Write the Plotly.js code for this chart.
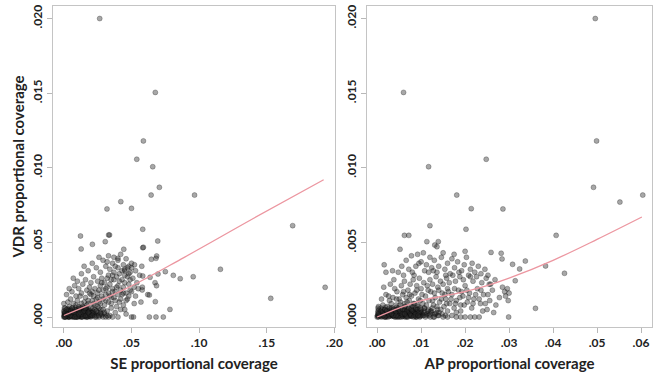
<!DOCTYPE html>
<html><head><meta charset="utf-8">
<script src="https://cdn.plot.ly/plotly-3.0.1.min.js"></script>
<style>html,body{margin:0;padding:0;background:#fff}</style>
</head><body><div id="chart" style="width:656px;height:375px"></div>
<script>
// ---- SE panel (x: SE proportional coverage, y: VDR proportional coverage) ----
const seCore = [
[0.0005,0.00005],[0.0015,0.00015],[0.0025,0.00005],[0.0035,0.00025],[0.0045,0.0001],[0.0055,0.00035],[0.0065,0.00005],[0.0075,0.0002],[0.0085,0.0004],[0.0095,0.0001],
[0.0105,0.00025],[0.0115,0.00005],[0.0125,0.0004],[0.0135,0.00015],[0.0145,0.0003],[0.0155,0.00005],[0.0165,0.0002],[0.0175,0.00045],[0.0185,0.0001],[0.0195,0.0003],
[0.0205,0.0002],[0.0215,0.0004],[0.0225,0.0001],[0.0008,0.0004],[0.0018,0.0003],[0.0028,0.00055],[0.0038,0.0001],[0.0048,0.0005],[0.0058,0.00015],[0.0068,0.0005],
[0.0078,0.00035],[0.0088,0.00065],[0.0098,0.0004],[0.0108,0.00055],[0.0118,0.0003],[0.0128,0.0006],[0.0138,0.00045],[0.0148,0.0006],[0.0158,0.00035],[0.0168,0.00055],
[0.0003,0.0002],[0.0013,0.0000],[0.0023,0.00035],[0.0033,0.0000],[0.0043,0.0003],[0.0053,0.00005],[0.0063,0.0004],[0.0073,0.0000],[0.0083,0.0001],[0.0093,0.0003],
[0.0103,0.0000],[0.0113,0.00035],[0.0123,0.0001],[0.0133,0.0003],[0.0143,0.0001],[0.0153,0.0004],[0.0163,0.0000],[0.0173,0.0003],[0.0183,0.00025],[0.0193,0.00005]
];
const seCore2 = [
[0.0002,0.0001],[0.0012,0.00025],[0.0022,0.0001],[0.0032,0.0003],[0.0042,0.00005],[0.0052,0.0002],[0.0062,0.00025],[0.0072,0.0001],[0.0082,0.00025],[0.0092,0.00005],
[0.0102,0.0002],[0.0112,0.0001],[0.0122,0.00025],[0.0132,0.00005],[0.0142,0.0002],[0.0152,0.0001],[0.0162,0.00025],[0.0172,0.0001],[0.0182,0.0002],[0.0192,0.0001],
[0.0007,0.0000],[0.0017,0.0001],[0.0027,0.0002],[0.0037,0.0000],[0.0047,0.0002],[0.0057,0.0001],[0.0067,0.0003],[0.0077,0.0001],[0.0087,0.0000],[0.0097,0.0002],
[0.0107,0.0001],[0.0117,0.0002],[0.0127,0.0000],[0.0137,0.0003],[0.0147,0.0001],[0.0157,0.0002],[0.0167,0.0001],[0.0177,0.0000],[0.0187,0.0002],[0.0197,0.0001],
[0.0004,0.0003],[0.0026,0.0004],[0.0046,0.00035],[0.0066,0.0003],[0.0086,0.00035],[0.0106,0.0004],[0.0126,0.0002],[0.0146,0.00045],[0.0166,0.0004],[0.0186,0.0004],
[0.0210,0.0001],[0.0220,0.0003],[0.0230,0.0002],[0.0240,0.0001],[0.0250,0.0003],[0.0260,0.0000],[0.0270,0.0002],[0.0280,0.0001],[0.0300,0.0002],[0.0320,0.0001]
];
const seCore3 = [
[0.0010,0.00015],[0.0020,0.00035],[0.0030,0.00015],[0.0040,0.0004],[0.0050,0.00015],[0.0060,0.00035],[0.0070,0.00015],[0.0080,0.0003],[0.0090,0.00015],[0.0100,0.00035],
[0.0110,0.00015],[0.0120,0.0004],[0.0130,0.00015],[0.0140,0.00035],[0.0150,0.00015],[0.0160,0.0003],[0.0170,0.00015],[0.0180,0.00035],[0.0190,0.00015],[0.0200,0.0003],
[0.0006,0.00025],[0.0016,0.00005],[0.0026,0.00025],[0.0036,0.00005],[0.0046,0.00025],[0.0056,0.00005],[0.0066,0.00025],[0.0076,0.00005],[0.0086,0.00025],[0.0096,0.00005],
[0.0106,0.00025],[0.0116,0.00005],[0.0126,0.00025],[0.0136,0.00005],[0.0146,0.00025],[0.0156,0.00005],[0.0166,0.00025],[0.0176,0.00005],[0.0186,0.00025],[0.0196,0.00005],
[0.0004,0.0006],[0.0034,0.0005],[0.0064,0.0006],[0.0094,0.0005],[0.0124,0.0005],[0.0154,0.0006],[0.0184,0.0005],[0.0214,0.0006],[0.0244,0.0004],[0.0274,0.0005]
];
const seDense = [
[0.000,0.0000],[0.002,0.0001],[0.004,0.0000],[0.005,0.0002],[0.007,0.0001],[0.009,0.0000],[0.010,0.0003],[0.012,0.0001],[0.013,0.0000],[0.015,0.0002],
[0.017,0.0000],[0.018,0.0001],[0.020,0.0000],[0.022,0.0002],[0.024,0.0000],[0.026,0.0001],[0.029,0.0000],[0.031,0.0000],[0.034,0.0001],[0.036,0.0000],
[0.001,0.0003],[0.003,0.0004],[0.006,0.0003],[0.008,0.0005],[0.011,0.0004],[0.014,0.0003],[0.016,0.0005],[0.019,0.0004],[0.021,0.0003],[0.023,0.0005],
[0.027,0.0003],[0.001,0.0006],[0.004,0.0007],[0.006,0.0006],[0.009,0.0008],[0.012,0.0006],[0.014,0.0007],[0.017,0.0008],[0.020,0.0006],[0.025,0.0007],
[0.003,0.0001],[0.006,0.0000],[0.008,0.0002],[0.011,0.0001],[0.014,0.0000],[0.016,0.0001],[0.019,0.0002],[0.002,0.0002],[0.005,0.0001],[0.010,0.0000],
[0.013,0.0002],[0.001,0.0000],[0.003,0.0002],[0.007,0.0003],[0.009,0.0002],[0.012,0.0003],[0.015,0.0004],[0.018,0.0003],[0.000,0.0004],[0.002,0.0005],
[0.005,0.0004],[0.008,0.0000],[0.011,0.0002],[0.021,0.0001],[0.023,0.0000],[0.028,0.0002],[0.033,0.0000],[0.040,0.0000],[0.050,0.0000],[0.0515,0.0000]
];
const seMid = [
[0.000,0.0009],[0.003,0.0010],[0.005,0.0012],[0.007,0.0009],[0.010,0.0011],[0.012,0.0014],[0.015,0.0010],[0.016,0.0013],[0.018,0.0011],[0.020,0.0015],
[0.022,0.0009],[0.024,0.0012],[0.026,0.0010],[0.028,0.0014],[0.030,0.0008],[0.031,0.0011],[0.033,0.0016],[0.035,0.0009],[0.037,0.0013],[0.039,0.0007],
[0.041,0.0010],[0.043,0.0015],[0.045,0.0005],[0.047,0.0012],[0.049,0.0018],[0.052,0.0009],[0.002,0.0015],[0.006,0.0017],[0.009,0.0014],[0.011,0.0019],
[0.013,0.0016],[0.017,0.0018],[0.019,0.0020],[0.021,0.0017],[0.023,0.0019],[0.025,0.0016],[0.027,0.0021],[0.029,0.0018],[0.032,0.0020],[0.034,0.0014],
[0.036,0.0019],[0.038,0.0017],[0.040,0.0021],[0.042,0.0018],[0.044,0.0020],[0.046,0.0016],[0.048,0.0022],[0.004,0.0019],[0.008,0.0021],[0.014,0.0022],
[0.024,0.0004],[0.026,0.0006],[0.029,0.0005],[0.032,0.0004],[0.035,0.0006],[0.038,0.0003],[0.042,0.0005],[0.044,0.0008],[0.046,0.0002],[0.030,0.0003]
];
const seMid2 = [
[0.011,0.0007],[0.013,0.0009],[0.016,0.0006],[0.018,0.0009],[0.021,0.0011],[0.023,0.0008],[0.025,0.0013],[0.027,0.0009],[0.029,0.0012],[0.031,0.0015],
[0.033,0.0010],[0.035,0.0013],[0.036,0.0017],[0.038,0.0011],[0.040,0.0015],[0.042,0.0012],[0.044,0.0016],[0.046,0.0011],[0.048,0.0014],[0.050,0.0017],
[0.019,0.0016],[0.022,0.0014],[0.026,0.0018],[0.028,0.0023],[0.031,0.0019],[0.034,0.0022],[0.037,0.0025],[0.039,0.0020],[0.041,0.0029],[0.043,0.0025],
[0.045,0.0023],[0.047,0.0027],[0.049,0.0025],[0.032,0.0026],[0.036,0.0028],[0.040,0.0033],[0.045,0.0031],[0.048,0.0029],[0.050,0.0033],[0.052,0.0020]
];
const seUpper = [
[0.010,0.0024],[0.016,0.0025],[0.020,0.0023],[0.022,0.0027],[0.025,0.0024],[0.028,0.0026],[0.030,0.0023],[0.033,0.0028],[0.035,0.0025],[0.037,0.0030],
[0.039,0.0027],[0.041,0.0024],[0.043,0.0031],[0.045,0.0028],[0.047,0.0033],[0.049,0.0030],[0.051,0.0026],[0.054,0.0023],[0.007,0.0026],[0.013,0.0029],
[0.018,0.0031],[0.024,0.0033],[0.027,0.0030],[0.031,0.0034],[0.034,0.0032],[0.036,0.0036],[0.038,0.0034],[0.040,0.0038],[0.044,0.0035],[0.048,0.0034],
[0.050,0.0036],[0.021,0.0036],[0.029,0.0038],[0.033,0.0041],[0.037,0.0040],[0.042,0.0042],[0.046,0.0039],[0.015,0.0034],[0.026,0.0040],[0.032,0.0037],
[0.053,0.0031],[0.056,0.0028],[0.055,0.0019],[0.053,0.0014],[0.057,0.0010],[0.058,0.0020],[0.062,0.0015],[0.0522,0.0035],[0.0576,0.0034],[0.0449,0.0032],
[0.0443,0.00454],[0.0400,0.00393],[0.0583,0.00464]
];
const seOutliers = [
[0.0265,0.0200],[0.0676,0.01505],[0.0588,0.0118],[0.0539,0.01057],[0.0657,0.01007],[0.0706,0.00869],[0.0645,0.00817],[0.0966,0.00817],[0.0421,0.00773],[0.0319,0.00724],
[0.0500,0.00728],[0.1691,0.00612],[0.0583,0.00588],[0.0123,0.00543],[0.0331,0.0055],[0.0338,0.0055],[0.0211,0.00487],[0.0306,0.00505],[0.0694,0.00509],[0.0128,0.00456],
[0.0588,0.00467],[0.1157,0.0032],[0.1931,0.00199],[0.1529,0.00125],[0.0956,0.0027],[0.0860,0.00257],[0.0809,0.00279],[0.0750,0.00304],[0.0696,0.00288],[0.0681,0.00393],
[0.0686,0.00409],[0.0647,0.00387],[0.0674,0.0023],[0.0685,0.0021],[0.0676,0.00103],[0.0784,0.00051],[0.0632,0.0000],[0.0681,0.0000],[0.0735,0.0000],[0.0632,0.00147],
[0.0579,0.00181],[0.0637,0.00266],[0.0583,0.00275]
];
const seFitX = [0, 0.046, 0.089, 0.140, 0.192];
const seFitY = [0.0001, 0.0019, 0.0040, 0.0066, 0.0092];

// ---- AP panel (x: AP proportional coverage, y: VDR proportional coverage) ----
const apCore = [
[0.00025,0.00005],[0.00075,0.0002],[0.00125,0.00005],[0.00175,0.0003],[0.00225,0.0001],[0.00275,0.0004],[0.00325,0.00005],[0.00375,0.00025],[0.00425,0.0005],[0.00475,0.0001],
[0.00525,0.0003],[0.00575,0.00005],[0.00625,0.00045],[0.00675,0.0002],[0.00725,0.0004],[0.00775,0.00005],[0.00825,0.0003],[0.00875,0.0005],[0.00925,0.0002],[0.00975,0.0004],
[0.01025,0.0002],[0.01075,0.0006],[0.01125,0.0002],[0.01175,0.0005],[0.01225,0.0003],[0.0004,0.0005],[0.0009,0.0006],[0.0014,0.0004],[0.0019,0.00065],[0.0024,0.0002],
[0.0029,0.0001],[0.0034,0.0006],[0.0039,0.0003],[0.0044,0.00065],[0.0049,0.0004],[0.0054,0.0006],[0.0059,0.0002],[0.0064,0.0007],[0.0069,0.0005],[0.0074,0.0003],
[0.0079,0.0007],[0.0084,0.0005],[0.0089,0.0003],[0.0094,0.0007],[0.0099,0.0002],[0.0001,0.0001],[0.0011,0.0002],[0.0021,0.0000],[0.0031,0.0002],[0.0041,0.0001],
[0.0051,0.0000],[0.0061,0.0001],[0.0071,0.0003],[0.0081,0.0002],[0.0091,0.0001],[0.0101,0.0003],[0.0111,0.0001],[0.0121,0.0000],[0.0131,0.0002],[0.0141,0.0003]
];
const apCore2 = [
[0.0001,0.0001],[0.0006,0.00025],[0.0011,0.0001],[0.0016,0.0003],[0.0021,0.00005],[0.0026,0.0002],[0.0031,0.00025],[0.0036,0.0001],[0.0041,0.00025],[0.0046,0.00005],
[0.0051,0.0002],[0.0056,0.0001],[0.0061,0.00025],[0.0066,0.00005],[0.0071,0.0002],[0.0076,0.0001],[0.0081,0.00025],[0.0086,0.0001],[0.0091,0.0002],[0.0096,0.0001],
[0.0003,0.0000],[0.0008,0.0001],[0.0013,0.0002],[0.0018,0.0000],[0.0023,0.0002],[0.0028,0.0001],[0.0033,0.0003],[0.0038,0.0001],[0.0043,0.0000],[0.0048,0.0002],
[0.0053,0.0001],[0.0058,0.0002],[0.0063,0.0000],[0.0068,0.0003],[0.0073,0.0001],[0.0078,0.0002],[0.0083,0.0001],[0.0088,0.0000],[0.0093,0.0002],[0.0098,0.0001],
[0.0002,0.0004],[0.0012,0.0005],[0.0022,0.00045],[0.0032,0.0005],[0.0042,0.00045],[0.0052,0.0005],[0.0062,0.0004],[0.0072,0.00055],[0.0082,0.0004],[0.0092,0.0005],
[0.0103,0.0001],[0.0108,0.0004],[0.0113,0.0002],[0.0118,0.0001],[0.0123,0.0004],[0.0128,0.0000],[0.0133,0.0002],[0.0138,0.0001],[0.0148,0.0002],[0.0155,0.0001]
];
const apCore3 = [
[0.0005,0.00015],[0.0010,0.00035],[0.0015,0.00015],[0.0020,0.0004],[0.0025,0.00015],[0.0030,0.00035],[0.0035,0.00015],[0.0040,0.0003],[0.0045,0.00015],[0.0050,0.00035],
[0.0055,0.00015],[0.0060,0.0004],[0.0065,0.00015],[0.0070,0.00035],[0.0075,0.00015],[0.0080,0.0003],[0.0085,0.00015],[0.0090,0.00035],[0.0095,0.00015],[0.0100,0.0003],
[0.0003,0.00025],[0.0008,0.00005],[0.0013,0.00025],[0.0018,0.00005],[0.0023,0.00025],[0.0028,0.00005],[0.0033,0.00025],[0.0038,0.00005],[0.0043,0.00025],[0.0048,0.00005],
[0.0053,0.00025],[0.0058,0.00005],[0.0063,0.00025],[0.0068,0.00005],[0.0073,0.00025],[0.0078,0.00005],[0.0083,0.00025],[0.0088,0.00005],[0.0093,0.00025],[0.0098,0.00005],
[0.0002,0.0006],[0.0017,0.0005],[0.0032,0.0006],[0.0047,0.0005],[0.0062,0.0005],[0.0077,0.0006],[0.0092,0.0005],[0.0107,0.0006],[0.0122,0.0004],[0.0137,0.0005]
];
const apDense = [
[0.0000,0.0000],[0.0005,0.0001],[0.0010,0.0000],[0.0015,0.0002],[0.0020,0.0001],[0.0025,0.0000],[0.0030,0.0003],[0.0035,0.0001],[0.0040,0.0000],[0.0045,0.0002],
[0.0050,0.0001],[0.0055,0.0000],[0.0060,0.0003],[0.0065,0.0001],[0.0070,0.0000],[0.0075,0.0002],[0.0080,0.0004],[0.0085,0.0001],[0.0090,0.0000],[0.0095,0.0003],
[0.0100,0.0005],[0.0105,0.0001],[0.0110,0.0000],[0.0120,0.0002],[0.0130,0.0000],[0.0140,0.0001],[0.0150,0.0000],[0.0160,0.0000],[0.0170,0.0001],[0.0180,0.0000],
[0.0190,0.0000],[0.0200,0.0000],[0.0212,0.0000],[0.0222,0.0000],[0.0232,0.0000],[0.0002,0.0003],[0.0008,0.0004],[0.0012,0.0003],[0.0018,0.0005],[0.0022,0.0004],
[0.0028,0.0006],[0.0033,0.0004],[0.0038,0.0005],[0.0042,0.0003],[0.0048,0.0006],[0.0052,0.0004],[0.0058,0.0005],[0.0062,0.0007],[0.0068,0.0004],[0.0072,0.0006],
[0.0078,0.0005],[0.0082,0.0007],[0.0088,0.0006],[0.0092,0.0008],[0.0098,0.0006],[0.0003,0.0007],[0.0013,0.0008],[0.0023,0.0007],[0.0032,0.0009],[0.0043,0.0008],
[0.0053,0.0010],[0.0063,0.0009],[0.0073,0.0011],[0.0083,0.0009],[0.0007,0.0001],[0.0017,0.0000],[0.0027,0.0002],[0.0037,0.0001],[0.0047,0.0000],[0.0057,0.0002],
[0.0067,0.0000],[0.0077,0.0001],[0.0087,0.0002],[0.0097,0.0000],[0.0003,0.0002],[0.0013,0.0001],[0.0033,0.0002],[0.0043,0.0001],[0.0063,0.0002],[0.0083,0.0000],
[0.0093,0.0001],[0.0108,0.0003],[0.0115,0.0004],[0.0125,0.0006],[0.0135,0.0003],[0.0145,0.0005]
];
const apMid = [
[0.0010,0.0012],[0.0020,0.0015],[0.0028,0.0011],[0.0036,0.0013],[0.0045,0.0017],[0.0050,0.0012],[0.0058,0.0015],[0.0066,0.0013],[0.0070,0.0018],[0.0078,0.0014],
[0.0086,0.0016],[0.0094,0.0012],[0.0100,0.0019],[0.0104,0.0009],[0.0110,0.0014],[0.0118,0.0011],[0.0122,0.0017],[0.0128,0.0008],[0.0132,0.0013],[0.0138,0.0020],
[0.0142,0.0010],[0.0148,0.0016],[0.0152,0.0007],[0.0156,0.0012],[0.0160,0.0019],[0.0165,0.0009],[0.0170,0.0015],[0.0175,0.0006],[0.0180,0.0011],[0.0185,0.0018],
[0.0190,0.0008],[0.0195,0.0014],[0.0200,0.0021],[0.0205,0.0010],[0.0210,0.0016],[0.0215,0.0006],[0.0220,0.0012],[0.0228,0.0019],[0.0235,0.0009],[0.0242,0.0015],
[0.0250,0.0005],[0.0256,0.0011],[0.0262,0.0018],[0.0270,0.0008],[0.0278,0.0013],[0.0285,0.0020],[0.0015,0.0020],[0.0030,0.0022],[0.0040,0.0019],[0.0055,0.0021],
[0.0062,0.0024],[0.0075,0.0022],[0.0082,0.0025],[0.0090,0.0021],[0.0096,0.0026],[0.0106,0.0023],[0.0114,0.0021],[0.0120,0.0025],[0.0126,0.0022],[0.0134,0.0027],
[0.0144,0.0024],[0.0150,0.0022],[0.0158,0.0026],[0.0164,0.0023],[0.0172,0.0028],[0.0178,0.0024],[0.0188,0.0027],[0.0196,0.0025],[0.0208,0.0028],[0.0218,0.0024],
[0.0226,0.0027],[0.0238,0.0023],[0.0248,0.0026],[0.0258,0.0022],[0.0268,0.0025],[0.0240,0.0004],[0.0265,0.0003],[0.0180,0.0003],[0.0190,0.0004],[0.0160,0.0004]
];
const apMid2 = [
[0.0052,0.0008],[0.0068,0.0010],[0.0085,0.0009],[0.0098,0.0011],[0.0112,0.0008],[0.0126,0.0011],[0.0136,0.0007],[0.0146,0.0012],[0.0158,0.0009],[0.0168,0.0012],
[0.0178,0.0009],[0.0188,0.0013],[0.0198,0.0008],[0.0208,0.0013],[0.0218,0.0009],[0.0232,0.0012],[0.0246,0.0009],[0.0026,0.0014],[0.0044,0.0012],[0.0060,0.0017],
[0.0074,0.0015],[0.0090,0.0018],[0.0102,0.0015],[0.0116,0.0018],[0.0130,0.0016],[0.0140,0.0018],[0.0154,0.0015],[0.0162,0.0017],[0.0176,0.0019],[0.0192,0.0017],
[0.0204,0.0018],[0.0224,0.0015],[0.0236,0.0018],[0.0252,0.0015],[0.0038,0.0025],[0.0084,0.0028],[0.0128,0.0031],[0.0156,0.0028],[0.0186,0.0030],[0.0212,0.0027]
];
const apUpper = [
[0.0020,0.0030],[0.0048,0.0030],[0.0060,0.0028],[0.0072,0.0032],[0.0080,0.0030],[0.0088,0.0034],[0.0095,0.0036],[0.0100,0.0037],[0.0108,0.0031],[0.0112,0.0035],
[0.0117,0.0030],[0.0124,0.0033],[0.0130,0.0038],[0.0136,0.0030],[0.0140,0.0034],[0.0146,0.0040],[0.0154,0.0032],[0.0160,0.0036],[0.0166,0.0029],[0.0170,0.0039],
[0.0176,0.0033],[0.0183,0.0037],[0.0192,0.0031],[0.0198,0.0035],[0.0203,0.0040],[0.0212,0.0032],[0.0216,0.0036],[0.0222,0.0030],[0.0230,0.0034],[0.0236,0.0029],
[0.0245,0.0032],[0.0252,0.0028],[0.0016,0.0035],[0.0035,0.0031],[0.0056,0.0034],[0.0066,0.0038],[0.0078,0.0041],[0.0092,0.0042],[0.0105,0.0043],[0.0120,0.0040],
[0.0150,0.0043],[0.0175,0.0042],[0.0200,0.0044]
];
const apOutliers = [
[0.0496,0.0200],[0.0060,0.01505],[0.0499,0.0118],[0.0248,0.01057],[0.0117,0.01007],[0.0492,0.00869],[0.0181,0.00817],[0.0604,0.00817],[0.0552,0.0077],[0.0214,0.00726],
[0.0286,0.00724],[0.0120,0.00612],[0.0202,0.00588],[0.0062,0.00547],[0.0072,0.00547],[0.0407,0.00547],[0.0052,0.00454],[0.0113,0.00505],[0.0131,0.00482],[0.0136,0.00471],
[0.0139,0.00505],[0.0259,0.00433],[0.0282,0.00427],[0.0284,0.00389],[0.0337,0.00375],[0.0308,0.00353],[0.0383,0.00342],[0.0324,0.00322],[0.0426,0.00293],[0.0314,0.00243],
[0.0360,0.00058],[0.0299,0.0000],[0.0255,0.0022],[0.0296,0.0019],[0.0300,0.0016],[0.0298,0.0011],[0.0292,0.0014],[0.0290,0.0017]
];
const apFitX = [0, 0.005, 0.010, 0.015, 0.020, 0.025, 0.030, 0.040, 0.050, 0.0602];
const apFitY = [0, 0.0006, 0.0011, 0.0014, 0.0017, 0.0021, 0.0026, 0.0038, 0.0052, 0.0067];

// ---- ticks & titles ----
const yTickVals = [0, 0.005, 0.010, 0.015, 0.020];
const yTickText = ['.000', '.005', '.010', '.015', '.020'];
const seTickVals = [0, 0.05, 0.10, 0.15, 0.20];
const seTickText = ['.00', '.05', '.10', '.15', '.20'];
const apTickVals = [0, 0.01, 0.02, 0.03, 0.04, 0.05, 0.06];
const apTickText = ['.00', '.01', '.02', '.03', '.04', '.05', '.06'];
const yTitle = 'VDR proportional coverage';
const seTitle = 'SE proportional coverage';
const apTitle = 'AP proportional coverage';

const sePts = seCore.concat(seCore2, seCore3, seDense, seMid, seMid2, seUpper, seOutliers);
const apPts = apCore.concat(apCore2, apCore3, apDense, apMid, apMid2, apUpper, apOutliers);

const marker = {size: 5, color: 'rgba(45,45,45,0.42)', line: {width: 0.6, color: 'rgba(0,0,0,0.42)'}};
const fitLine = {color: 'rgb(236,150,160)', width: 1.3};

const traces = [
  {type: 'scatter', mode: 'markers', x: sePts.map(p => p[0]), y: sePts.map(p => p[1]), xaxis: 'x', yaxis: 'y', marker: marker, hoverinfo: 'skip'},
  {type: 'scatter', mode: 'lines', x: seFitX, y: seFitY, xaxis: 'x', yaxis: 'y', line: Object.assign({shape: 'spline'}, fitLine), hoverinfo: 'skip'},
  {type: 'scatter', mode: 'markers', x: apPts.map(p => p[0]), y: apPts.map(p => p[1]), xaxis: 'x2', yaxis: 'y2', marker: marker, hoverinfo: 'skip'},
  {type: 'scatter', mode: 'lines', x: apFitX, y: apFitY, xaxis: 'x2', yaxis: 'y2', line: Object.assign({shape: 'spline'}, fitLine), hoverinfo: 'skip'}
];

const FONT = 'Lato, "Open Sans", sans-serif';
const tickFont = {family: FONT, size: 12, color: '#222', weight: 'bold'};
const titleFont = {family: FONT, size: 15, color: '#222', weight: 'bold'};
const axisCommon = {showgrid: false, zeroline: false, showline: true, mirror: true, linecolor: '#c4c4c4', linewidth: 1,
  ticks: 'outside', ticklen: 5, tickcolor: '#b8b8b8', tickfont: tickFont, automargin: false};

const layout = {
  width: 656, height: 375, showlegend: false,
  paper_bgcolor: '#fff', plot_bgcolor: '#fff',
  margin: {l: 0, r: 0, t: 6, b: 48},
  xaxis: Object.assign({}, axisCommon, {domain: [0.0808, 0.5107], range: [-0.008, 0.2004], anchor: 'y',
    tickvals: seTickVals, ticktext: seTickText, title: {text: seTitle, font: titleFont, standoff: 9}}),
  yaxis: Object.assign({}, axisCommon, {domain: [0, 1], range: [-0.00067, 0.02084], anchor: 'x',
    tickvals: yTickVals, ticktext: yTickText, tickangle: -90, title: {text: yTitle, font: titleFont, standoff: 1}}),
  xaxis2: Object.assign({}, axisCommon, {domain: [0.5595, 0.9939], range: [-0.0023, 0.0625], anchor: 'y2',
    tickvals: apTickVals, ticktext: apTickText, title: {text: apTitle, font: titleFont, standoff: 9}}),
  yaxis2: Object.assign({}, axisCommon, {domain: [0, 1], range: [-0.00067, 0.02084], anchor: 'x2',
    tickvals: yTickVals, ticktext: yTickText, tickangle: -90})
};

Plotly.newPlot('chart', traces, layout, {staticPlot: true, displayModeBar: false});
</script>
</body></html>
